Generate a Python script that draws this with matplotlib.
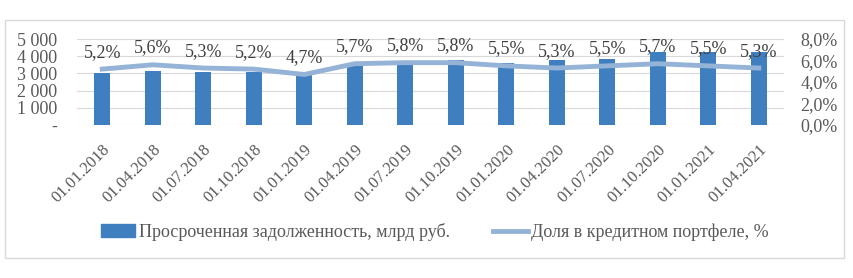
import numpy as np
import matplotlib
matplotlib.use("Agg")
matplotlib.rcParams.update({
    "font.family": "serif", "font.serif": ["Liberation Serif", "DejaVu Serif"],
    "font.size": 13,
})
import matplotlib.pyplot as plt
from matplotlib.patches import Rectangle
from matplotlib.ticker import FuncFormatter

dates = ["01.01.2018", "01.04.2018", "01.07.2018", "01.10.2018", "01.01.2019",
         "01.04.2019", "01.07.2019", "01.10.2019", "01.01.2020", "01.04.2020",
         "01.07.2020", "01.10.2020", "01.01.2021", "01.04.2021"]
overdue = [3020, 3160, 3100, 3100, 2900, 3530, 3530, 3780, 3620, 3780,
           3840, 4260, 4230, 4230]
share = [5.2, 5.6, 5.3, 5.2, 4.7, 5.7, 5.8, 5.8, 5.5, 5.3, 5.5, 5.7, 5.5, 5.3]

bar_color = "#3f7fbf"
line_color = "#95b3d7"
text_gray = "#595959"

fig = plt.figure(figsize=(8.54, 2.78), dpi=100)
fig.patches.append(Rectangle((5 / 854, 20 / 278), 839 / 854, 238 / 278,
                             transform=fig.transFigure, fill=False,
                             edgecolor="#d9d9d9", linewidth=1.0))
ax = fig.add_axes([77 / 854, 1 - 125 / 278, 707 / 854, 86 / 278])
x = np.arange(len(dates))
ax.bar(x, overdue, width=0.32, color=bar_color, zorder=2)
ax.set_ylim(0, 5000)
ax.set_xlim(-0.5, len(dates) - 0.5)
ax.set_yticks([0, 1000, 2000, 3000, 4000, 5000])
ax.yaxis.set_major_formatter(FuncFormatter(
    lambda v, p: "-" if v == 0 else f"{int(v):,}".replace(",", " ")))
ax.grid(axis="y", color="#d9d9d9", linewidth=0.8, zorder=0)
for s in ax.spines.values():
    s.set_visible(False)
ax.tick_params(axis="y", length=0, colors=text_gray, labelsize=13, pad=14)
ax.set_xticks(x)
ax.set_xticklabels(dates, rotation=45, ha="right", rotation_mode="anchor",
                   fontsize=12)
ax.tick_params(axis="x", length=0, colors=text_gray, pad=12)

ax2 = ax.twinx()
ax2.plot(x, share, color=line_color, linewidth=3.5, zorder=3)
ax2.set_ylim(0, 8)
ax2.set_yticks([0, 2, 4, 6, 8])
ax2.yaxis.set_major_formatter(FuncFormatter(lambda v, p: f"{v:.1f}%".replace(".", ",")))
ax2.tick_params(axis="y", length=0, colors=text_gray, labelsize=13, pad=12)
for s in ax2.spines.values():
    s.set_visible(False)
for xi, v in zip(x, share):
    ax2.annotate(f"{v:.1f}%".replace(".", ","), (xi, v), xytext=(0, 6),
                 textcoords="offset points", ha="center", va="bottom",
                 fontsize=13, color="#404040")

h1 = Rectangle((0, 0), 1, 1, color=bar_color)
h2 = plt.Line2D([], [], color=line_color, linewidth=3.5)
fig.legend([h1, h2], ["Просроченная задолженность, млрд руб.",
                      "Доля в кредитном портфеле, %"],
           loc="center", bbox_to_anchor=(435 / 854, 1 - 232 / 278), ncol=2,
           frameon=False, fontsize=13, handlelength=1.9, handletextpad=0.2,
           columnspacing=2.4, labelcolor=text_gray)

fig.savefig("out.png", dpi=100)
